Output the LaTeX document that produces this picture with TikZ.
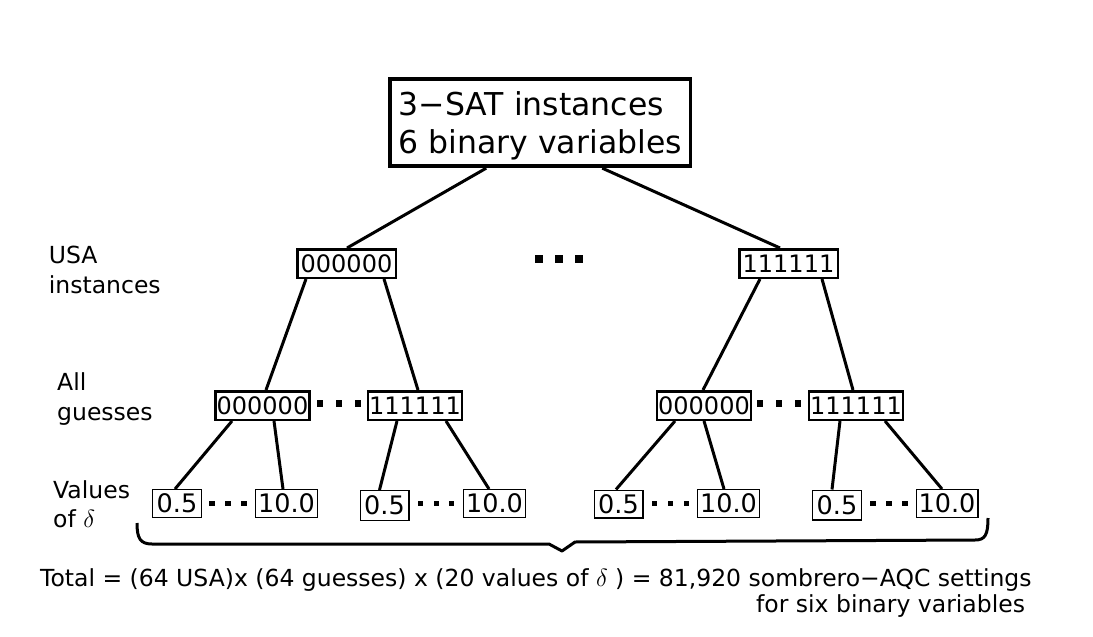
\documentclass[tikz,border=0pt]{standalone}
\usepackage{fontspec}
\setmainfont{DejaVu Sans}
\begin{document}
\begin{tikzpicture}[x=1pt,y=-1pt,
  topbox/.style={draw,line width=3.8pt,inner sep=0pt,minimum width=300.5pt,minimum height=87.5pt,align=left,font=\fontsize{31.5}{38}\selectfont},
  usabox/.style={draw,line width=2.5pt,inner sep=0pt,minimum width=98.5pt,minimum height=28.5pt,font=\fontsize{24}{28}\selectfont},
  guessbox/.style={draw,line width=2.5pt,inner sep=0pt,minimum width=94pt,minimum height=28.5pt,font=\fontsize{24}{28}\selectfont},
  valbox/.style={draw,line width=1.3pt,inner sep=0pt,minimum height=27.7pt,font=\fontsize{25.5}{28}\selectfont},
  shortv/.style={valbox,minimum width=48.7pt},
  longv/.style={valbox,minimum width=61.7pt},
  lab/.style={inner sep=0pt,anchor=north west,align=left,font=\fontsize{23.5}{29.5}\selectfont},
  conn/.style={line width=3pt},
  brace/.style={line width=3pt,line join=round}]
\useasboundingbox (0,0) rectangle (1093,637);
\fill[white] (0,0) rectangle (1093,637);

\node[topbox] (top) at (540.25,122.5) {\rule{0pt}{30.5pt}3−SAT instances\\6 binary variables};

\node[usabox] (u0) at (346.5,263.5) {000000};
\node[usabox] (u1) at (788.5,263.5) {111111};

\node[guessbox] (g00) at (262.5,405.5) {000000};
\node[guessbox] (g01) at (415,405.5) {111111};
\node[guessbox] (g10) at (704,405.5) {000000};
\node[guessbox] (g11) at (856,405.5) {111111};

\node[shortv] (v1a) at (177,503.5) {0.5};
\node[longv] (v1b) at (286.5,503.5) {10.0};
\node[shortv,minimum height=29.7pt] (v2a) at (384.5,505.5) {0.5};
\node[longv] (v2b) at (494.5,503.5) {10.0};
\node[shortv] (v3a) at (618.5,504) {0.5};
\node[longv] (v3b) at (728.5,503.5) {10.0};
\node[shortv,minimum height=29.7pt] (v4a) at (837,505) {0.5};
\node[longv] (v4b) at (947,503.5) {10.0};

\node[lab] (lu) at (48.7,246) {USA\\instances};
\node[lab] (lg) at (57,372.5) {All\\guesses};
\node[lab] (lv) at (53,480) {Values\\of $\delta$};

\draw[conn] ([xshift=-54pt]top.south) -- ([xshift=0.5pt]u0.north);
\draw[conn] ([xshift=62pt]top.south) -- ([xshift=-8.5pt]u1.north);
\draw[conn] ([xshift=-40.5pt]u0.south) -- ([xshift=3.5pt]g00.north);
\draw[conn] ([xshift=37.5pt]u0.south) -- ([xshift=3pt]g01.north);
\draw[conn] ([xshift=-28.5pt]u1.south) -- ([xshift=-1pt]g10.north);
\draw[conn] ([xshift=33.5pt]u1.south) -- ([xshift=-3pt]g11.north);
\draw[conn] ([xshift=-30.5pt]g00.south) -- ([xshift=-2pt]v1a.north);
\draw[conn] ([xshift=11.5pt]g00.south) -- ([xshift=-3.5pt]v1b.north);
\draw[conn] ([xshift=-18pt]g01.south) -- ([xshift=-5pt]v2a.north);
\draw[conn] ([xshift=31pt]g01.south) -- ([xshift=-5.5pt]v2b.north);
\draw[conn] ([xshift=-29pt]g10.south) -- ([xshift=-2.5pt]v3a.north);
\draw[conn] (g10.south) -- ([xshift=-4.5pt]v3b.north);
\draw[conn] ([xshift=-16pt]g11.south) -- ([xshift=-5pt]v4a.north);
\draw[conn] ([xshift=29pt]g11.south) -- ([xshift=-5pt]v4b.north);

% dots
\foreach \x in {539,559,579} \fill (\x-3.75,255) rectangle (\x+3.75,262.5);
\foreach \x in {320,339,358,760,779,798} \fill (\x-3.3,400) rectangle (\x+3.3,406.6);
\foreach \x in {212,228,244,420.5,436.5,451.5,654.5,670.5,686.5,873,889,905} \fill (\x-2.8,500.5) rectangle (\x+2.8,506.1);

% brace
\draw[brace] (137,523) .. controls (137,538) and (140,544) .. (152,544) -- (549,544) -- (562,551) -- (575,542) -- (975,540) .. controls (985,540) and (988,535) .. (988,518);

\node[inner sep=0pt,anchor=base west,font=\fontsize{23.5}{28}\selectfont] (tot1) at (40,586) {Total = (64 USA)x (64 guesses) x (20 values of $\delta$ ) = 81,920 sombrero−AQC settings};
\node[inner sep=0pt,anchor=base west,font=\fontsize{23.5}{28}\selectfont] (tot2) at (756,612) {for six binary variables};
\end{tikzpicture}
\end{document}
